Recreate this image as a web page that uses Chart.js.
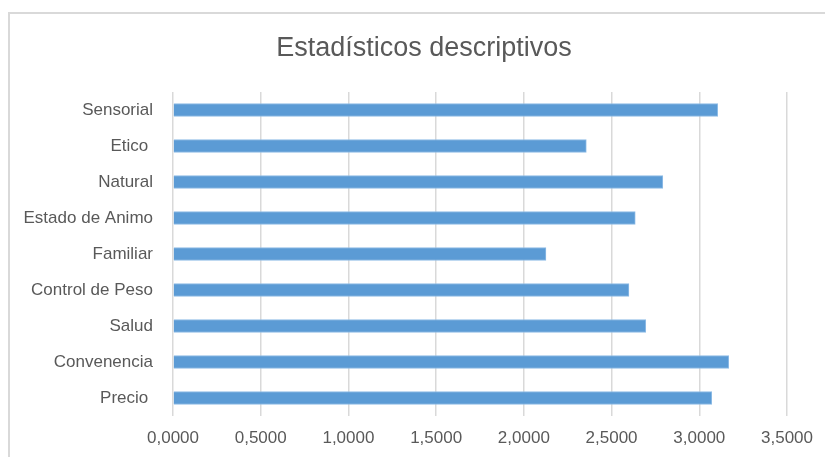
<!DOCTYPE html>
<html>
<head>
<meta charset="utf-8">
<script src="https://cdn.jsdelivr.net/npm/chart.js@4"></script>
<style>
    html, body { margin: 0; padding: 0; background: #ffffff; }
    #wrap { position: relative; width: 825px; height: 457px; overflow: hidden; }
    #frame {
        position: absolute; left: 8px; top: 12px; width: 900px; height: 500px;
        border-left: 2px solid #d9d9d9; border-top: 2px solid #d9d9d9;
    }
    canvas { position: absolute; left: 0; top: 0; }
</style>
</head>
<body>
<div id="wrap">
    <div id="frame"></div>
    <canvas id="statsChart" width="825" height="457"></canvas>
</div>
<script>
const categories = ['Sensorial', 'Etico ', 'Natural', 'Estado de Animo', 'Familiar', 'Control de Peso', 'Salud', 'Convenencia', 'Precio '];
const means = [3.105, 2.356, 2.792, 2.635, 2.126, 2.599, 2.695, 3.168, 3.071];
const xTicks = [0, 0.5, 1, 1.5, 2, 2.5, 3, 3.5];
const chartTitle = 'Estadísticos descriptivos';

const textColor = '#595959';
const gridColor = '#d9d9d9';
const fontFamily = "'Liberation Sans', Arial, sans-serif";

// title sits centred on the whole frame, not on the plot area
const titlePlugin = {
    id: 'frameTitle',
    afterDraw(chart) {
        const ctx = chart.ctx;
        ctx.save();
        ctx.fillStyle = textColor;
        ctx.font = '27px ' + fontFamily;
        ctx.textAlign = 'center';
        ctx.textBaseline = 'alphabetic';
        ctx.fillText(chartTitle, 424, 56);
        ctx.restore();
    }
};

document.addEventListener("DOMContentLoaded", function() {
    const el = document.getElementById('statsChart');
    new Chart(el, {
        type: 'bar',
        data: {
            labels: categories,
            datasets: [{
                label: 'Media',
                data: means,
                backgroundColor: '#5b9bd5',
                borderColor: '#8fbce6',
                borderWidth: 1,
                borderSkipped: 'left',
                barThickness: 13
            }]
        },
        options: {
            indexAxis: 'y',
            responsive: false,
            animation: false,
            layout: {
                padding: { left: 0, right: 37, top: 92, bottom: 10 }
            },
            plugins: {
                legend: { display: false },
                tooltip: { enabled: false },
                title: { display: false }
            },
            scales: {
                x: {
                    min: 0,
                    max: 3.5,
                    afterBuildTicks: function(scale) {
                        scale.ticks = xTicks.map(v => ({ value: v }));
                    },
                    afterFit: function(scale) { scale.height = 31; },
                    grid: { color: gridColor, lineWidth: 1.5, drawTicks: false },
                    border: { display: false },
                    ticks: {
                        color: textColor,
                        padding: 12,
                        maxRotation: 0,
                        font: { family: fontFamily, size: 17 },
                        callback: function(v) {
                            return Number(v).toFixed(4).replace('.', ',');
                        }
                    }
                },
                y: {
                    afterFit: function(scale) { scale.width = 173; },
                    grid: { display: false, drawTicks: false },
                    border: { display: false },
                    ticks: {
                        color: textColor,
                        padding: 20,
                        font: { family: fontFamily, size: 17 }
                    }
                }
            }
        },
        plugins: [titlePlugin]
    });
});
</script>
</body>
</html>
